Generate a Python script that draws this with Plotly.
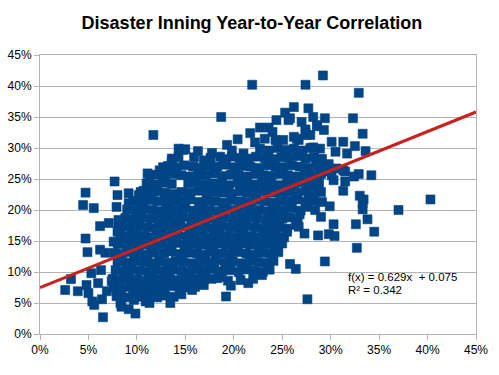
import plotly.graph_objects as go

title_text = "Disaster Inning Year-to-Year Correlation"
tick_values = [0, 5, 10, 15, 20, 25, 30, 35, 40, 45]
slope = 0.629
intercept = 0.075
r_squared = 0.342

# Disaster-inning rate, year 1 vs year 2 (percent)
scattered_points = [
    # left / low
    (4.45, 20.8), (5.55, 20.3), (4.7, 15.4), (4.9, 13.2), (6.2, 17.4), (7.1, 17.9),
    (6.2, 13.6), (6.75, 13.1), (5.3, 9.8), (6.3, 10.3), (3.2, 8.85), (2.6, 7.1),
    (3.9, 6.9), (4.8, 7.9), (5.0, 6.6), (5.4, 5.25), (5.6, 4.7), (6.4, 5.6),
    (6.0, 8.2), (6.9, 6.9), (6.5, 2.7), (7.4, 8.5), (8.3, 5.0), (8.4, 4.4),
    (9.15, 4.0), (9.85, 3.3), (9.7, 5.5), (10.9, 5.25), (11.3, 5.0), (8.0, 14.7),
    (7.9, 20.5), (8.1, 17.6), (8.9, 17.7), (8.1, 18.4), (9.15, 21.1), (10.2, 20.8),
    (10.4, 22.7), (11.2, 23.2), (13.1, 22.4), (14.1, 22.4), (7.6, 14.9), (8.0, 16.5),
    (10.7, 6.6), (11.2, 5.5), (12.1, 6.3), (13.45, 5.0), (15.7, 7.1), (19.2, 6.05),
    (19.7, 7.8), (16.9, 8.7), (18.3, 9.0), (27.6, 5.6), (25.8, 11.3), (26.4, 10.5),
    (22.9, 9.5), (23.6, 10.4), (24.5, 14.1), (25.5, 16.5), (26.7, 17.3), (27.5, 20.5),
    (27.7, 22.4), (26.4, 17.6), (27.3, 16.2), (26.8, 19.3),
    # upper left edge
    (4.7, 22.8), (7.7, 24.6), (8.0, 22.4), (9.15, 22.7), (10.2, 22.4), (11.1, 25.9),
    (11.3, 24.8), (11.7, 24.0), (10.7, 23.1), (11.6, 22.4), (12.35, 26.4), (12.7, 26.9),
    (12.8, 25.8), (13.6, 27.8), (14.3, 29.9), (14.8, 29.7), (15.0, 29.8), (16.3, 29.5),
    (17.75, 29.2), (14.3, 28.5), (16.9, 28.0), (18.6, 28.6), (19.3, 30.5), (19.8, 29.6),
    (20.4, 31.4), (21.0, 29.1), (21.7, 32.4), (22.7, 33.3), (23.6, 33.3), (22.2, 30.9),
    (23.2, 31.5), (24.0, 32.6), (24.3, 31.3), (25.1, 31.3), (26.2, 31.8), (26.7, 31.3),
    (27.5, 32.1), (22.7, 29.9), (23.6, 29.6), (24.5, 30.0), (25.3, 29.7), (26.2, 29.9),
    (27.1, 29.6), (27.9, 30.0),
    # top outliers
    (11.7, 32.1), (18.7, 35.0), (21.9, 40.2), (27.4, 40.2), (29.2, 41.7), (32.9, 38.9),
    (32.3, 34.8), (33.3, 32.3), (24.4, 34.5), (25.3, 35.7), (25.65, 34.5), (26.2, 36.6),
    (27.7, 36.4), (25.8, 34.8), (27.0, 34.2), (27.4, 32.6), (27.9, 32.1), (26.5, 31.5),
    (28.2, 35.0), (28.6, 33.7), (29.4, 34.8), (29.3, 32.9), (28.6, 33.5), (27.4, 33.0),
    # right side
    (30.1, 31.0), (31.3, 31.0), (32.5, 30.3), (33.6, 29.5), (30.5, 29.4), (31.7, 29.1),
    (28.9, 29.9), (28.2, 30.1), (29.0, 28.2), (29.8, 27.4), (29.5, 26.2), (32.9, 25.8),
    (34.2, 25.6), (31.3, 26.4), (30.1, 25.6), (30.6, 26.7), (31.5, 26.2), (30.3, 24.8),
    (31.5, 24.6), (32.4, 25.4), (28.7, 24.8), (28.7, 23.2), (31.3, 23.1), (33.0, 22.3),
    (33.4, 21.7), (28.2, 21.9), (29.9, 20.6), (33.3, 21.1), (33.3, 20.1), (37.0, 20.0),
    (40.3, 21.7), (28.4, 20.0), (29.0, 18.9), (32.6, 17.7), (33.8, 18.5), (30.3, 17.7),
    (34.5, 16.5), (28.7, 15.9), (29.8, 16.1), (30.4, 15.8), (32.7, 13.9), (29.4, 11.7),
]

dense_points = [
    (7.9, 6.1), (8.8, 5.9), (9.6, 6.2), (10.4, 6.0), (11.2, 6.3), (12.1, 5.9), (12.9, 6.2),
    (13.8, 6.0), (14.6, 6.4),
    (7.6, 7.5), (8.4, 7.3), (9.3, 7.6), (10.1, 7.4), (11.0, 7.2), (11.8, 7.5), (12.7, 7.4),
    (13.5, 7.7), (14.4, 7.3), (15.2, 7.5), (16.0, 7.6), (16.9, 7.9),
    (7.5, 8.9), (8.3, 8.7), (9.2, 9.0), (10.0, 8.8), (10.9, 8.6), (11.7, 8.9), (12.6, 8.8),
    (13.4, 9.0), (14.3, 8.7), (15.1, 8.9), (16.0, 8.8), (16.8, 9.1), (17.7, 8.9), (18.5, 9.2),
    (19.4, 8.6), (20.7, 8.7), (21.5, 8.2), (22.0, 8.9),
    (7.8, 10.3), (8.6, 10.1), (9.5, 10.4), (10.3, 10.2), (11.2, 10.0), (12.0, 10.3),
    (12.9, 10.1), (13.7, 10.4), (14.6, 10.2), (15.4, 10.0), (16.3, 10.3), (17.1, 10.2),
    (18.0, 10.5), (18.8, 10.1), (19.7, 10.3), (20.5, 10.0), (21.4, 10.4), (22.2, 10.2),
    (23.0, 10.0), (23.7, 10.4),
    (8.0, 11.7), (8.9, 11.5), (9.7, 11.8), (10.6, 11.6), (11.4, 11.4), (12.3, 11.7),
    (13.1, 11.5), (14.0, 11.8), (14.8, 11.6), (15.7, 11.4), (16.5, 11.7), (17.4, 11.6),
    (18.2, 11.9), (19.1, 11.5), (19.9, 11.7), (20.8, 11.4), (21.6, 11.8), (22.5, 11.6),
    (23.3, 11.5), (24.1, 11.8),
    (7.7, 13.1), (8.5, 12.9), (9.4, 13.2), (10.2, 13.0), (11.1, 12.8), (11.9, 13.1),
    (12.8, 13.0), (13.6, 13.3), (14.5, 12.9), (15.3, 13.1), (16.2, 13.0), (17.0, 12.8),
    (17.9, 13.2), (18.7, 13.0), (19.6, 12.9), (20.4, 13.2), (21.3, 13.0), (22.1, 12.8),
    (23.0, 13.1), (23.8, 13.0), (24.6, 13.2),
    (8.1, 14.5), (9.0, 14.3), (9.8, 14.6), (10.7, 14.4), (11.5, 14.2), (12.4, 14.5),
    (13.2, 14.4), (14.1, 14.7), (14.9, 14.3), (15.8, 14.5), (16.6, 14.4), (17.5, 14.2),
    (18.3, 14.6), (19.2, 14.4), (20.0, 14.3), (20.9, 14.6), (21.7, 14.4), (22.6, 14.2),
    (23.4, 14.5), (24.3, 14.4), (25.0, 14.6),
    (8.3, 15.9), (9.1, 15.7), (10.0, 16.0), (10.8, 15.8), (11.7, 15.6), (12.5, 15.9),
    (13.4, 15.8), (14.2, 16.1), (15.1, 15.7), (15.9, 15.9), (16.8, 15.8), (17.6, 15.6),
    (18.5, 16.0), (19.3, 15.8), (20.2, 15.7), (21.0, 16.0), (21.9, 15.8), (22.7, 15.6),
    (23.6, 15.9), (24.4, 15.8), (25.2, 15.6),
    (8.6, 17.3), (9.4, 17.1), (10.3, 17.4), (11.1, 17.2), (12.0, 17.0), (12.8, 17.3),
    (13.7, 17.2), (14.5, 17.5), (15.4, 17.1), (16.2, 17.3), (17.1, 17.2), (17.9, 17.0),
    (18.8, 17.4), (19.6, 17.2), (20.5, 17.1), (21.3, 17.4), (22.2, 17.2), (23.0, 17.0),
    (23.9, 17.3), (24.7, 17.2), (25.5, 17.0),
    (8.8, 18.7), (9.7, 18.5), (10.5, 18.8), (11.4, 18.6), (12.2, 18.4), (13.1, 18.7),
    (13.9, 18.6), (14.8, 18.9), (15.6, 18.5), (16.5, 18.7), (17.3, 18.6), (18.2, 18.4),
    (19.0, 18.8), (19.9, 18.6), (20.7, 18.5), (21.6, 18.8), (22.4, 18.6), (23.3, 18.4),
    (24.1, 18.7), (25.0, 18.6), (25.8, 18.8), (26.6, 18.4),
    (9.0, 20.1), (9.9, 19.9), (10.7, 20.2), (11.6, 20.0), (12.4, 19.8), (13.3, 20.1),
    (14.1, 20.0), (15.0, 20.3), (15.8, 19.9), (16.7, 20.1), (17.5, 20.0), (18.4, 19.8),
    (19.2, 20.2), (20.1, 20.0), (20.9, 19.9), (21.8, 20.2), (22.6, 20.0), (23.5, 19.8),
    (24.3, 20.1), (25.2, 20.0), (26.0, 20.3), (26.9, 19.9),
    (9.6, 21.5), (10.4, 21.3), (11.3, 21.6), (12.1, 21.4), (13.0, 21.2), (13.8, 21.5),
    (14.7, 21.4), (15.5, 21.7), (16.4, 21.3), (17.2, 21.5), (18.1, 21.4), (18.9, 21.2),
    (19.8, 21.6), (20.6, 21.4), (21.5, 21.3), (22.3, 21.6), (23.2, 21.4), (24.0, 21.2),
    (24.9, 21.5), (25.7, 21.4), (26.6, 21.7), (27.4, 21.3), (28.3, 21.5), (29.1, 21.3),
    (10.4, 22.9), (11.2, 22.7), (12.1, 23.0), (12.9, 22.8), (13.8, 22.6), (14.6, 22.9),
    (15.5, 22.8), (16.3, 23.1), (17.2, 22.7), (18.0, 22.9), (18.9, 22.8), (19.7, 22.6),
    (20.6, 23.0), (21.4, 22.8), (22.3, 22.7), (23.1, 23.0), (24.0, 22.8), (24.8, 22.6),
    (25.7, 22.9), (26.5, 22.8), (27.4, 23.1), (28.2, 22.7), (29.0, 22.9),
    (11.0, 24.3), (11.9, 24.1), (12.7, 24.4), (13.6, 24.2), (15.3, 24.3), (16.1, 24.5),
    (17.0, 24.1), (17.8, 24.3), (18.7, 24.2), (19.5, 24.0), (20.4, 24.4), (21.2, 24.2),
    (22.1, 24.1), (22.9, 24.4), (23.8, 24.2), (24.6, 24.0), (25.5, 24.3), (26.3, 24.2),
    (27.2, 24.5), (28.0, 24.1), (28.8, 24.3),
    (12.0, 25.7), (12.9, 25.5), (13.7, 25.8), (14.6, 25.6), (15.4, 25.4), (16.3, 25.7),
    (17.1, 25.6), (18.0, 25.9), (18.8, 25.5), (19.7, 25.7), (20.5, 25.6), (21.4, 25.4),
    (22.2, 25.8), (23.1, 25.6), (23.9, 25.5), (24.8, 25.8), (25.6, 25.6), (26.5, 25.4),
    (27.3, 25.7), (28.2, 25.6), (29.0, 25.8),
    (13.2, 27.1), (14.1, 26.9), (14.9, 27.2), (15.8, 27.0), (16.6, 26.8), (17.5, 27.1),
    (18.3, 27.0), (19.2, 27.3), (20.0, 26.9), (20.9, 27.1), (21.7, 27.0), (22.6, 26.8),
    (23.4, 27.2), (24.3, 27.0), (25.1, 26.9), (26.0, 27.2), (26.8, 27.0), (27.7, 26.8),
    (28.5, 27.1), (29.4, 27.3),
    (13.6, 28.3), (15.9, 28.5), (17.6, 28.4), (18.9, 28.2), (19.8, 28.6), (20.6, 28.4),
    (21.5, 28.3), (22.3, 28.6), (23.2, 28.4), (24.0, 28.2), (24.9, 28.5), (25.7, 28.4),
    (26.6, 28.7), (27.4, 28.3), (28.3, 28.5), (29.1, 28.2),
]

all_points = dense_points + scattered_points
year1 = [p[0] / 100 for p in all_points]
year2 = [p[1] / 100 for p in all_points]

trend_x = [0.0, 0.45]
trend_y = [intercept + slope * v for v in trend_x]

fig = go.Figure()
fig.add_trace(go.Scatter(
    x=year1, y=year2, mode="markers",
    marker=dict(symbol="square", size=9, color="#004586",
                line=dict(width=0.6, color="#004586")),
    showlegend=False, hoverinfo="skip",
))
fig.add_trace(go.Scatter(
    x=trend_x, y=trend_y, mode="lines",
    line=dict(color="#C9211E", width=3),
    showlegend=False, hoverinfo="skip",
))

font_family = "Liberation Sans, Arial, sans-serif"
fig.update_layout(
    width=499, height=375,
    margin=dict(l=39.5, r=23, t=54.7, b=40.7),
    paper_bgcolor="white", plot_bgcolor="white",
    title=dict(text="<b>" + title_text + "</b>", x=0.505, xanchor="center",
               y=1 - 23 / 375, yanchor="middle",
               font=dict(family=font_family, size=18, color="black")),
    font=dict(family=font_family, size=12, color="black"),
    annotations=[
        dict(x=0.3157, y=0.0927, xref="x", yref="y", xanchor="left", yanchor="middle",
             text=f"f(x) = {slope}x  + {intercept}", showarrow=False,
             font=dict(family=font_family, size=11.5, color="black")),
        dict(x=0.3157, y=0.0702, xref="x", yref="y", xanchor="left", yanchor="middle",
             text=f"R² = {r_squared}", showarrow=False,
             font=dict(family=font_family, size=11.5, color="black")),
    ],
)
fig.update_xaxes(
    range=[0, 0.45], tickvals=[v / 100 for v in tick_values], tickformat=".0%",
    showgrid=False, zeroline=False, showline=True, mirror=True, automargin=False,
    linecolor="#b3b3b3", linewidth=1, ticks="outside", ticklen=5, tickcolor="#b3b3b3",
    tickfont=dict(size=12, color="black"),
)
fig.update_yaxes(
    range=[0, 0.45], tickvals=[v / 100 for v in tick_values], tickformat=".0%",
    showgrid=True, gridcolor="#b3b3b3", gridwidth=1, zeroline=False, automargin=False,
    showline=True, mirror=True, linecolor="#b3b3b3", linewidth=1,
    ticks="outside", ticklen=5, tickcolor="#b3b3b3",
    tickfont=dict(size=12, color="black"),
)

fig.write_html(
    "out.html",
    config={"displayModeBar": False, "staticPlot": True},
    post_script="document.body.style.margin='0';document.body.style.padding='0';",
)
